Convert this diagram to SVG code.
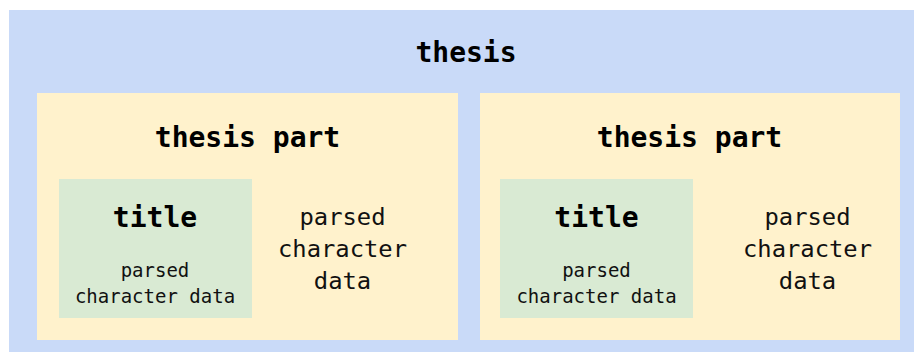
<svg xmlns="http://www.w3.org/2000/svg" width="914" height="352" viewBox="0 0 914 352">
<style>
.outer{fill:#c9daf8}
.part{fill:#fff2cc}
.title{fill:#d9ead3}
text{font-family:"DejaVu Sans Mono","Liberation Mono",monospace;fill:#000;text-anchor:middle}
.h{font-weight:bold;font-size:28px}
.s{font-size:19px;fill:#111}
.m{font-size:23.8px;fill:#111}
</style>
<rect width="914" height="352" fill="#ffffff"/>
<g id="thesis">
<rect class="outer" x="9" y="10" width="905" height="342"/>
<text class="h" x="466" y="62">thesis</text>
</g>
<g id="part1">
<rect class="part" x="37" y="93" width="421" height="247"/>
<text class="h" x="247.5" y="147">thesis part</text>
<text class="m" x="342.5" y="225">parsed</text>
<text class="m" x="342.5" y="257">character</text>
<text class="m" x="342.5" y="289">data</text>
</g>
<g id="title1">
<rect class="title" x="59" y="179" width="193" height="139"/>
<text class="h" x="155" y="227">title</text>
<text class="s" x="155" y="277">parsed</text>
<text class="s" x="155" y="303">character data</text>
</g>
<g id="part2">
<rect class="part" x="480" y="93" width="420" height="247"/>
<text class="h" x="689.5" y="147">thesis part</text>
<text class="m" x="807.5" y="225">parsed</text>
<text class="m" x="807.5" y="257">character</text>
<text class="m" x="807.5" y="289">data</text>
</g>
<g id="title2">
<rect class="title" x="500" y="179" width="193" height="139"/>
<text class="h" x="596.5" y="227">title</text>
<text class="s" x="596.5" y="277">parsed</text>
<text class="s" x="596.5" y="303">character data</text>
</g>
<g id="connectors"></g>
</svg>
